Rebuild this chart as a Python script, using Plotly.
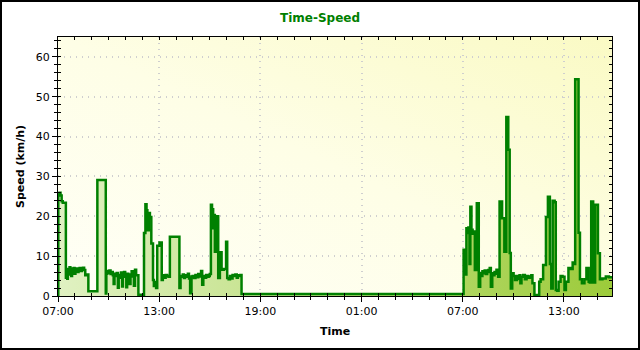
import base64
import plotly.graph_objects as go

D1 = "2023-05-01 "
D2 = "2023-05-02 "

day1_clock = ["07:00","07:01","07:05","07:09","07:13","07:17","07:28","07:30","07:33","07:35",
              "07:38","07:41","07:44","07:47","07:50","07:53","07:56","07:59","08:02","08:06",
              "08:09","08:13","08:17","08:21","08:25","08:29","08:33","08:37","08:42","08:48",
              "09:20","09:50","09:52","09:55","09:59","10:03","10:07","10:11","10:15","10:18",
              "10:21","10:25","10:29","10:33","10:36","10:40","10:44","10:48","10:51","10:55",
              "10:59","11:03","11:06","11:10","11:14","11:18","11:22","11:26","11:30","11:34",
              "11:38","11:46","12:06","12:11","12:15","12:18","12:23","12:27","12:32","12:38",
              "12:41","12:45","12:49","12:53","13:01","13:09","13:13","13:18","13:23","13:28",
              "13:33","13:38","14:12","14:16","14:20","14:24","14:28","14:32","14:37","14:42",
              "14:46","14:50","14:55","14:59","15:04","15:09","15:14","15:19","15:24","15:29",
              "15:33","15:37","15:42","15:47","15:51","15:56","16:00","16:04","16:08","16:12",
              "16:15","16:18","16:24","16:30","16:36","16:42","16:50","16:58","17:02","17:07",
              "17:12","17:17","17:21","17:26","17:31","17:36","17:40","17:45","17:49","17:53"]
day1_speed = [0, 25.5, 25.9, 25.2, 23.8, 23.4, 4.6, 6.8, 4.3, 6.2,
              5.4, 7.2, 6.3, 5.0, 6.9, 6.1, 7.0, 5.6, 6.4, 6.9,
              6.0, 6.6, 7.0, 6.3, 6.8, 7.1, 6.5, 5.2, 5.4, 1.2,
              29.1, 0.6, 5.6, 6.3, 5.8, 6.4, 5.5, 6.0, 5.2, 3.0,
              5.6, 5.0, 5.8, 2.1, 5.3, 4.6, 5.9, 2.4, 5.5, 6.0,
              4.8, 2.2, 5.6, 5.1, 3.0, 5.4, 6.2, 4.9, 2.6, 6.6,
              5.2, 0.3, 15.8, 23.0, 21.5, 16.5, 20.8, 19.8, 13.2, 4.0,
              2.5, 3.5, 2.0, 12.6, 13.4, 4.0, 5.2, 4.6, 5.3, 5.0,
              4.8, 14.9, 2.0, 5.0, 4.8, 5.4, 4.5, 5.2, 4.8, 5.6,
              4.4, 0.7, 4.9, 5.0, 4.5, 5.3, 4.7, 5.5, 4.9, 6.3,
              2.8, 5.0, 4.6, 5.3, 4.8, 5.0, 5.5, 22.9, 21.8, 17.0,
              20.3, 11.1, 20.0, 4.5, 11.0, 6.6, 6.8, 13.6, 4.5, 4.2,
              5.0, 4.4, 5.3, 5.0, 5.4, 4.6, 5.2, 5.0, 5.3, 0.5]

day2_clock = ["07:00","07:03","07:09","07:13","07:17","07:20","07:24","07:27","07:31","07:35",
              "07:39","07:43","07:50","07:57","08:02","08:06","08:10","08:14","08:18","08:22",
              "08:27","08:31","08:36","08:40","08:45","08:49","08:53","08:57","09:00","09:06",
              "09:11","09:20","09:28","09:35","09:42","09:47","09:51","09:56","10:01","10:06",
              "10:13","10:18","10:22","10:25","10:29","10:35","10:41","10:47","10:53","10:59",
              "11:04","11:08","11:15","11:32","11:37","11:46","11:56","12:03","12:10","12:15",
              "12:20","12:27","12:31","12:36","12:41","12:48","12:55","13:02","13:07","13:16",
              "13:24","13:31","13:35","13:40","13:52","13:57","14:04","14:13","14:20","14:28",
              "14:32","14:37","14:44","14:51","15:01","15:08","15:17","15:29","15:40","15:51"]
day2_speed = [0.5, 11.6, 5.4, 17.0, 15.8, 17.2, 8.0, 22.4, 16.6, 15.6,
              16.2, 6.5, 23.3, 2.3, 5.8, 5.0, 6.2, 5.7, 6.4, 5.5,
              6.0, 6.5, 7.0, 2.3, 5.7, 5.2, 6.0, 5.6, 6.6, 4.8,
              23.7, 19.5, 11.1, 44.9, 36.7, 10.8, 1.9, 5.7, 5.0, 4.0,
              5.0, 4.3, 5.2, 3.2, 4.8, 5.3, 4.2, 5.0, 4.6, 4.9,
              5.2, 3.2, 0.25, 3.6, 4.2, 7.8, 19.8, 24.9, 8.0, 1.9,
              23.9, 23.5, 1.5, 1.3, 3.6, 5.0, 4.8, 1.5, 3.6, 7.0,
              6.8, 8.4, 8.0, 54.4, 15.9, 4.2, 3.2, 4.2, 7.0, 3.6,
              3.4, 23.7, 3.4, 22.9, 10.7, 4.2, 4.4, 4.9, 4.7, 4.7]

y_ticks = [0, 10, 20, 30, 40, 50, 60]
x_start = D1 + "07:00"
x_end = D2 + "15:51"

times = [D1 + t for t in day1_clock] + [D2 + t for t in day2_clock]
speed = day1_speed + day2_speed

GREEN = "#008000"
FONT = "DejaVu Sans"

fig = go.Figure()
fig.add_trace(go.Scatter(
    x=times, y=speed, mode="lines", line=dict(color=GREEN, width=2.5, shape="hv"),
    fill="tozeroy",
    fillgradient=dict(type="horizontal", colorscale=[[0, "#e0f1c2"], [1, "#9ccb3a"]]),
    hoverinfo="skip", showlegend=False,
))
# helper trace for the inner (crossing) tick axes
fig.add_trace(go.Scatter(x=[x_start], y=[0], xaxis="x2", yaxis="y2", mode="markers",
                         marker=dict(opacity=0), hoverinfo="skip", showlegend=False))

svg = ("<svg xmlns='http://www.w3.org/2000/svg' width='554' height='259' viewBox='0 0 554 259' "
       "preserveAspectRatio='none'><defs><linearGradient id='g' x1='0' y1='1' x2='1' y2='0'>"
       "<stop offset='0' stop-color='#fffff7'/><stop offset='0.5' stop-color='#fefee6'/>"
       "<stop offset='1' stop-color='#fafac4'/></linearGradient></defs>"
       "<rect width='554' height='259' fill='url(#g)'/></svg>")
bg_src = "data:image/svg+xml;base64," + base64.b64encode(svg.encode()).decode()

L, R, T, B = 58, 28, 37, 54
PW, PH = 640 - L - R, 350 - T - B

GRID = dict(showgrid=True, gridcolor="#cfcfcf", griddash="1px,5px", gridwidth=1.5)

fig.update_layout(
    width=640, height=350,
    margin=dict(l=L, r=R, t=T, b=B),
    paper_bgcolor="white", plot_bgcolor="rgba(0,0,0,0)",
    title=dict(text="<b>Time-Speed</b>", x=0.5, xref="container", xanchor="center",
               y=1 - 18 / 350, yref="container", yanchor="middle",
               font=dict(family=FONT, size=12, color=GREEN)),
    images=[dict(source=bg_src, xref="paper", yref="paper", x=0, y=1, sizex=1, sizey=1,
                 xanchor="left", yanchor="top", sizing="stretch", layer="below")],
    xaxis=dict(
        type="date", range=[x_start, x_end], tickformat="%H:%M",
        tick0=x_start, dtick=6 * 3600 * 1000,
        ticks="outside", ticklen=5, tickcolor="black", tickwidth=1,
        minor=dict(dtick=3600 * 1000, tick0=x_start, ticks="outside", ticklen=3,
                   tickcolor="black", showgrid=False),
        showline=True, linecolor="black", linewidth=1, mirror=True,
        zeroline=False, **GRID,
        tickfont=dict(family=FONT, size=11, color="black"),
        title=dict(text="<b>Time</b>", font=dict(family=FONT, size=11, color="black"), standoff=10),
    ),
    yaxis=dict(
        range=[0, 65], tickvals=y_ticks,
        ticks="outside", ticklen=5, tickcolor="black", tickwidth=1,
        minor=dict(dtick=2, ticks="outside", ticklen=3, tickcolor="black", showgrid=False),
        showline=True, linecolor="black", linewidth=1, mirror=True,
        zeroline=False, **GRID,
        tickfont=dict(family=FONT, size=11, color="black"),
        title=dict(text="<b>Speed (km/h)</b>", font=dict(family=FONT, size=11, color="black"), standoff=8),
    ),
    xaxis2=dict(
        type="date", overlaying="x", anchor="y2", matches="x",
        tick0=x_start, dtick=6 * 3600 * 1000,
        ticks="inside", ticklen=3, tickcolor="black", mirror="ticks",
        minor=dict(dtick=3600 * 1000, tick0=x_start, ticks="inside", ticklen=3, tickcolor="black"),
        showticklabels=False, showgrid=False, showline=False, zeroline=False,
    ),
    yaxis2=dict(
        overlaying="y", anchor="x2", range=[0, 65], tickvals=y_ticks,
        ticks="inside", ticklen=3, tickcolor="black", mirror="ticks",
        minor=dict(dtick=2, ticks="inside", ticklen=3, tickcolor="black"),
        showticklabels=False, showgrid=False, showline=False, zeroline=False,
    ),
    shapes=[dict(type="rect", xref="paper", yref="paper",
                 x0=-(L - 1) / PW, x1=1 + (R - 1) / PW,
                 y0=-(B - 1) / PH, y1=1 + (T - 1) / PH,
                 line=dict(color="black", width=2), fillcolor="rgba(0,0,0,0)", layer="above")],
)

fig.write_html("out.html")
